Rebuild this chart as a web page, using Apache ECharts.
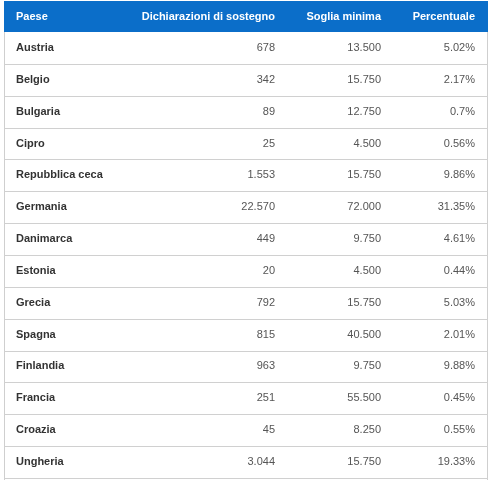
<!DOCTYPE html><html><head><meta charset="utf-8">
<script src="https://cdn.jsdelivr.net/npm/echarts@6/dist/echarts.min.js"></script>
<style>html,body{margin:0;padding:0;background:#fff}#c{width:501px;height:480px}</style></head><body><div id="c"></div>
<script>
const headers = ["Paese","Dichiarazioni di sostegno","Soglia minima","Percentuale"];
const countries = ["Austria","Belgio","Bulgaria","Cipro","Repubblica ceca","Germania","Danimarca","Estonia","Grecia","Spagna","Finlandia","Francia","Croazia","Ungheria"];
const declarations = ["678","342","89","25","1.553","22.570","449","20","792","815","963","251","45","3.044"];
const thresholds = ["13.500","15.750","12.750","4.500","15.750","72.000","9.750","4.500","15.750","40.500","9.750","55.500","8.250","15.750"];
const percentages = ["5.02%","2.17%","0.7%","0.56%","9.86%","31.35%","4.61%","0.44%","5.03%","2.01%","9.88%","0.45%","0.55%","19.33%"];

const FONT = '"Liberation Sans", Arial, sans-serif';
const L = 4, R = 488, HEAD_TOP = 1, HEAD_BOT = 32, ROW_H = 31.85;
const colX = [16, 275, 381, 475];
const chart = echarts.init(document.getElementById('c'), null, {renderer:'canvas'});
const rows = countries.map((c,i)=>[i, c, declarations[i], thresholds[i], percentages[i]]);
function txt(x,y,t,align,bold,color){
  return {type:'text',style:{x:x,y:y,text:t,textAlign:align,textVerticalAlign:'middle',font:(bold?'bold ':'')+'11px '+FONT,fill:color}};
}
chart.setOption({
  animation:false,
  grid:{left:0,right:0,top:0,bottom:0},
  xAxis:{type:'value',min:0,max:501,show:false},
  yAxis:{type:'value',min:0,max:480,inverse:true,show:false},
  graphic:[
    {type:'rect',shape:{x:L,y:HEAD_TOP,width:R-L,height:HEAD_BOT-HEAD_TOP},style:{fill:'#0b6ec9'}},
    txt(colX[0],17,headers[0],'left',true,'#fff'),
    txt(colX[1],17,headers[1],'right',true,'#fff'),
    txt(colX[2],17,headers[2],'right',true,'#fff'),
    txt(colX[3],17,headers[3],'right',true,'#fff'),
    {type:'line',shape:{x1:L+0.5,y1:HEAD_BOT,x2:L+0.5,y2:480},style:{stroke:'#cfcfcf',lineWidth:1}},
    {type:'line',shape:{x1:R-0.5,y1:HEAD_BOT,x2:R-0.5,y2:480},style:{stroke:'#cfcfcf',lineWidth:1}}
  ],
  series:[{
    type:'custom',
    data:rows,
    renderItem:function(params,api){
      const i = api.value(0);
      const top = api.coord([0, HEAD_BOT + i*ROW_H])[1];
      const bot = api.coord([0, HEAD_BOT + (i+1)*ROW_H])[1];
      const cy = (top+bot)/2;
      const r = rows[i];
      return {type:'group',children:[
        {type:'line',shape:{x1:L,y1:Math.round(bot)+0.5,x2:R,y2:Math.round(bot)+0.5},style:{stroke:'#d0d0d0',lineWidth:1}},
        txt(colX[0],cy,r[1],'left',true,'#333'),
        txt(colX[1],cy,r[2],'right',false,'#555'),
        txt(colX[2],cy,r[3],'right',false,'#555'),
        txt(colX[3],cy,r[4],'right',false,'#555')
      ]};
    }
  }]
});
</script></body></html>
